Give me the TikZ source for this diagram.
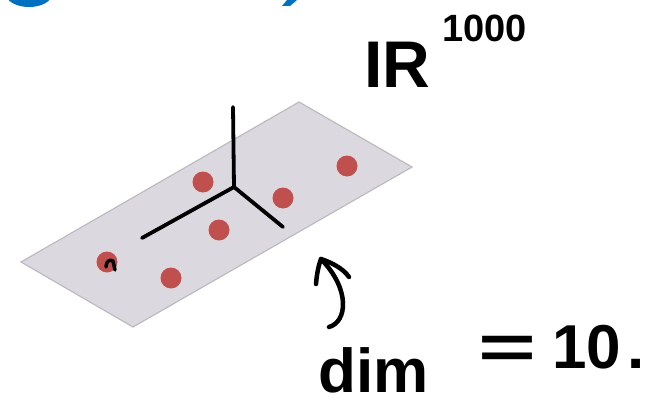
\documentclass[tikz,border=0pt]{standalone}
\usepackage{graphicx}
\usepackage{fontspec}
\setmainfont{Liberation Sans}
\begin{document}
\begin{tikzpicture}[x=1pt,y=-1pt,
  plane/.style={fill=planefill,draw=planeedge,line width=1.2pt},
  pdot/.style={circle,fill=dotred,inner sep=0pt,minimum size=21pt},
  axis/.style={line width=3.8pt,line cap=round},
  hand/.style={text=black,inner sep=0pt,font=\bfseries},
  ink/.style={line width=4.5pt,line cap=round,line join=round}]
\definecolor{planefill}{HTML}{DCD8E0}
\definecolor{planeedge}{HTML}{BDBBC0}
\definecolor{dotred}{HTML}{C0504D}
\definecolor{titleblue}{HTML}{0070C0}
\useasboundingbox (0,0) rectangle (664,404);
\begin{scope}
\clip (0,0) rectangle (664,404);
\fill[titleblue] (29,-6) ellipse [x radius=23, y radius=13];
\fill[titleblue] (282,6) -- (290,6) -- (297,0) -- (287,0) -- cycle;
\end{scope}
% plane
\coordinate (pt) at (299,102);
\coordinate (pr) at (412,167);
\coordinate (pb) at (133,327);
\coordinate (pl) at (21,262);
\draw[plane] (pt) -- (pr) -- (pb) -- (pl) -- cycle;
% dots
\node[pdot] (d1) at (203,182) {};
\node[pdot] (d2) at (347,166) {};
\node[pdot] (d3) at (283,198) {};
\node[pdot] (d4) at (219,230) {};
\node[pdot] (d5) at (107,262) {};
\node[pdot] (d6) at (171,278) {};
% axes
\coordinate (o) at (234,187);
\coordinate (az) at (233,107);
\coordinate (ax) at (142,238);
\coordinate (ay) at (283,227);
\draw[axis] (az) -- (o) -- (ax);
\draw[axis] (o) -- (ay);
% small mark on dot
\draw[ink,line width=3.5pt] (106,267) .. controls (106,261) and (110,259) .. (113,261) -- (115,270);
% curved arrow
\coordinate (atip) at (321,259);
\coordinate (aend) at (329,327);
\draw[ink] (aend) .. controls (347,322) and (351,290) .. (atip);
\draw[ink] (316,284) .. controls (317,272) and (319,264) .. (atip) .. controls (330,262) and (343,268) .. (349,277);
% handwritten labels
\node[hand,anchor=base west,font=\bfseries\fontsize{66}{66}\selectfont] (rr) at (364,88) {IR};
\node[hand,anchor=base west,font=\bfseries\fontsize{38}{38}\selectfont] (exp) at (442,42) {1000};
\node[hand,anchor=base west,font=\bfseries\fontsize{62}{62}\selectfont] (dim) at (318,392) {dim};
\node[hand,anchor=base west,font=\bfseries\fontsize{62}{62}\selectfont] (eq) at (478,368) {\scalebox{1.6}[1]{=}\hspace{16pt}10\hspace{6pt}.};
\end{tikzpicture}
\end{document}
